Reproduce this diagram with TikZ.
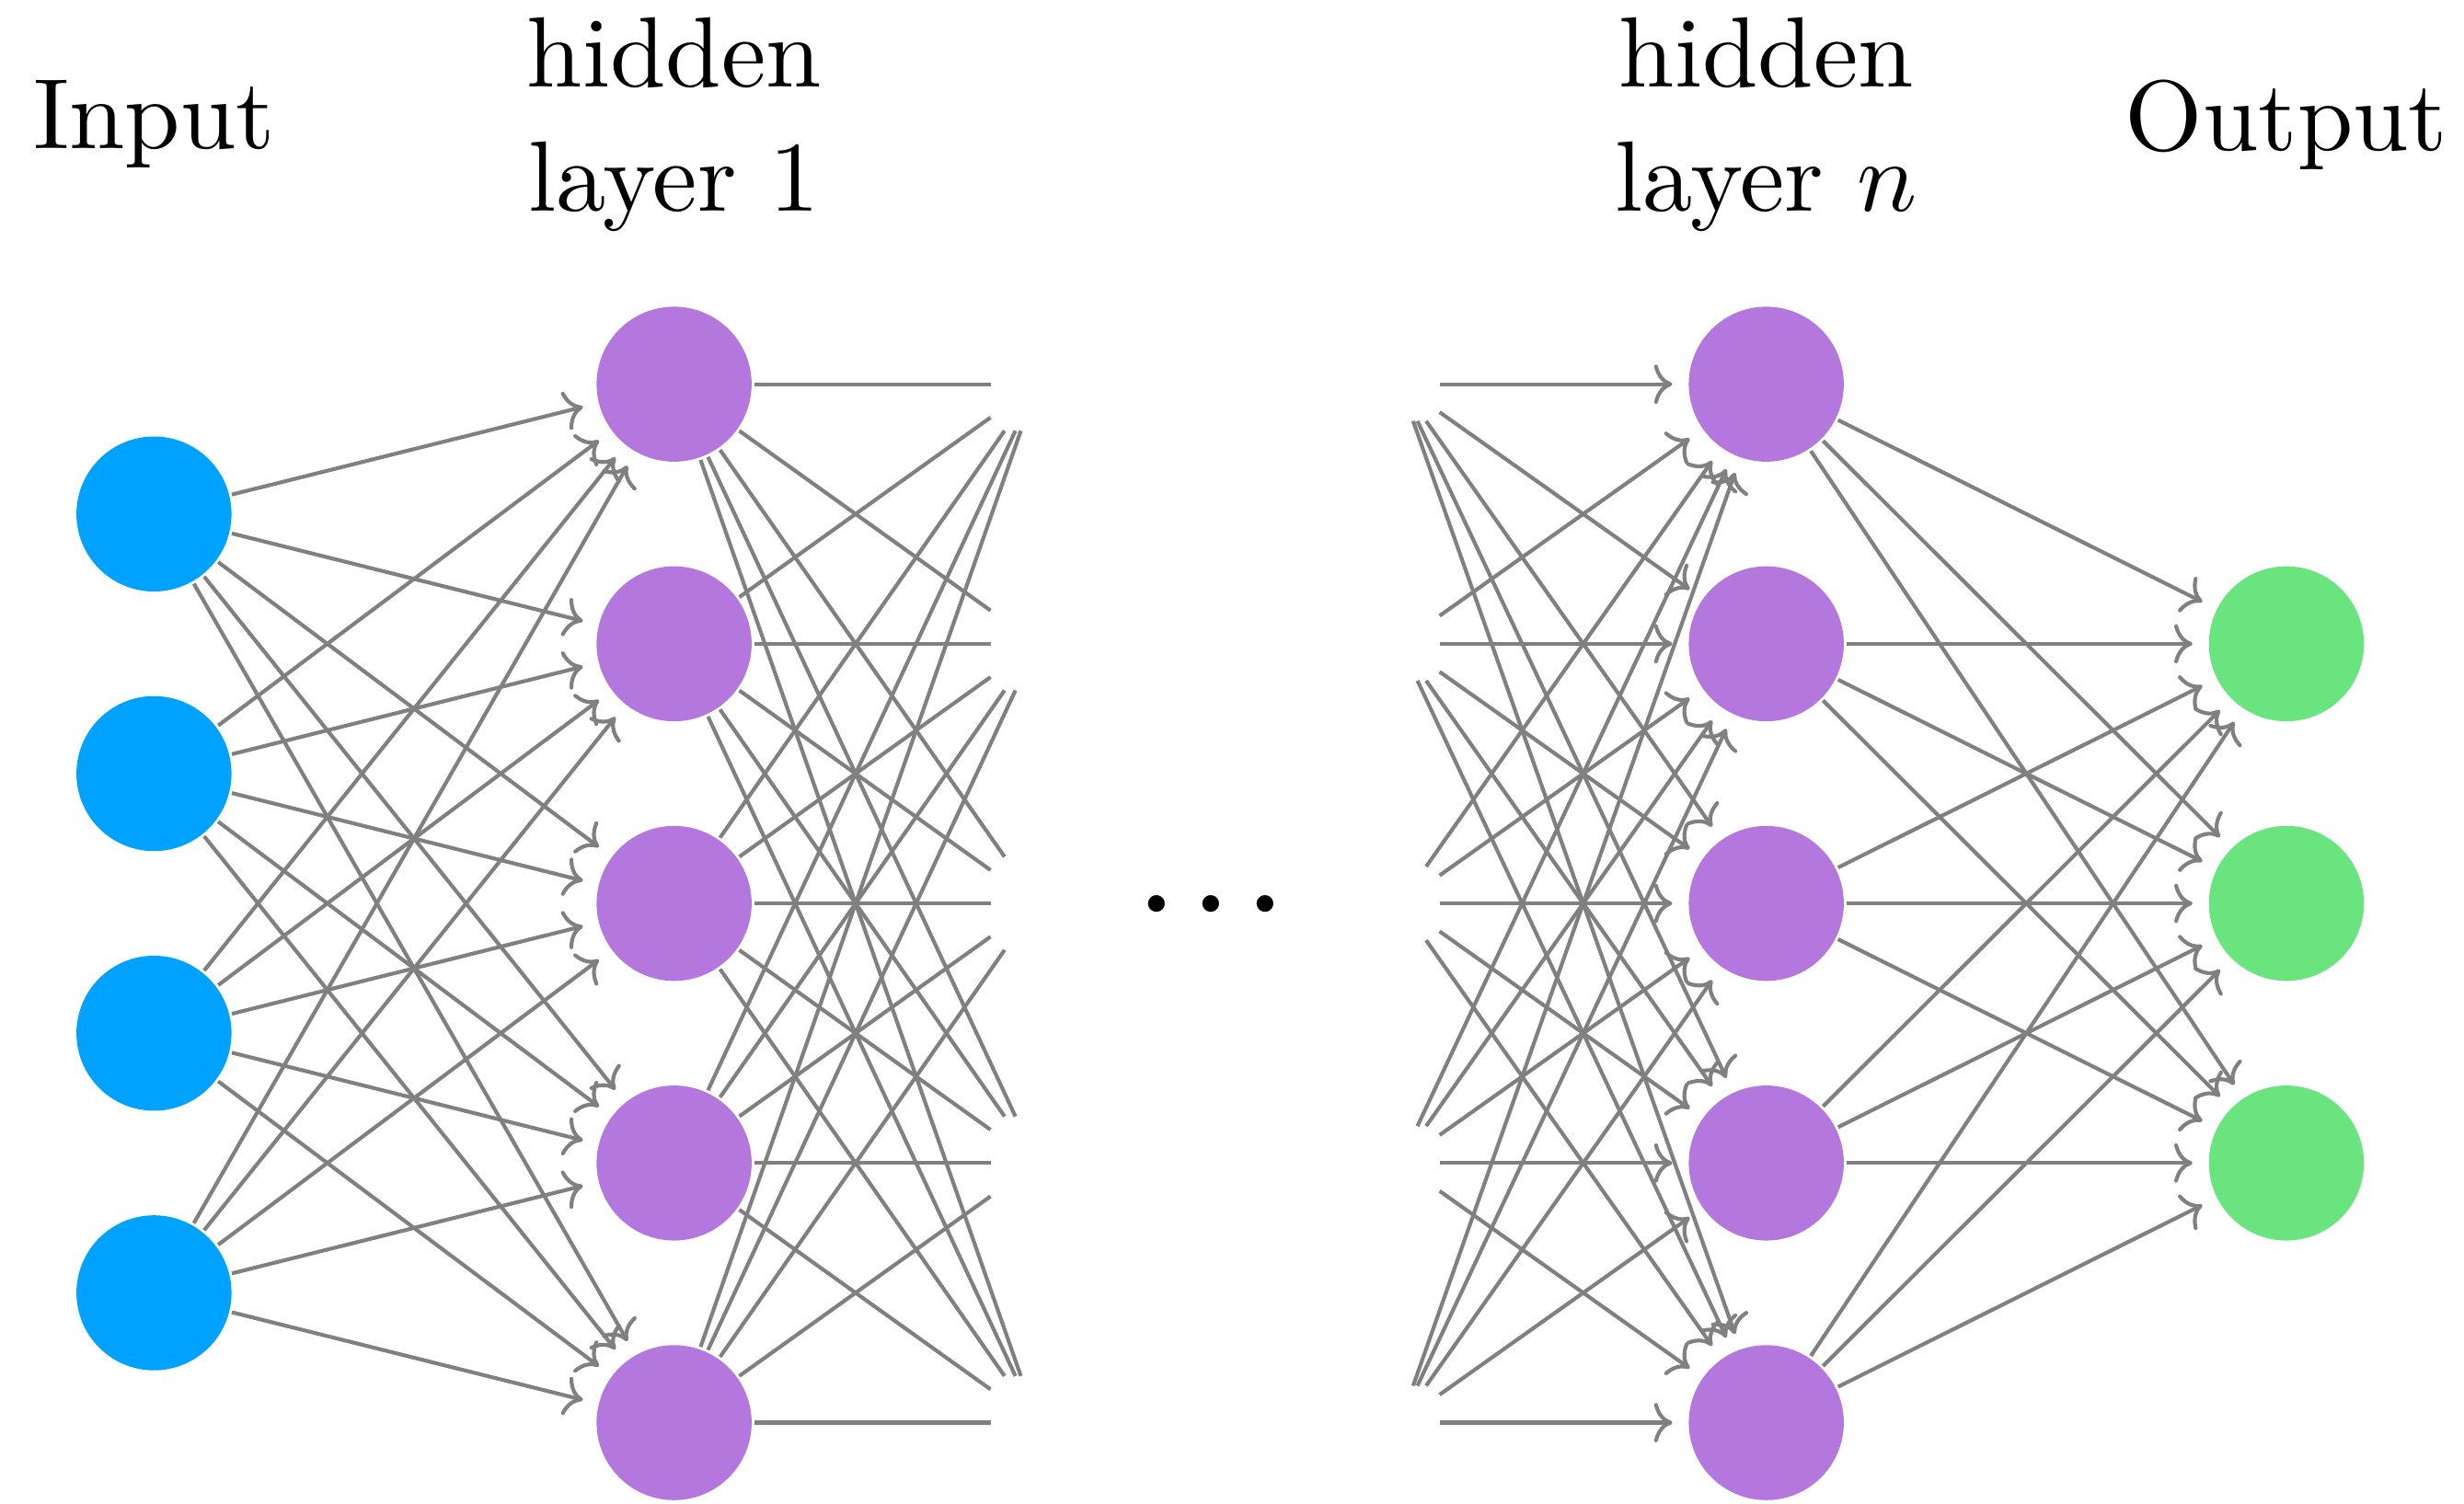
\documentclass[tikz,border=0pt]{standalone}
\usetikzlibrary{arrows.meta}
\definecolor{inblue}{HTML}{00A2FF}
\definecolor{hidpurple}{HTML}{B477DE}
\definecolor{outgreen}{HTML}{6AE47F}
\begin{document}
\begin{tikzpicture}[
  neuron/.style={circle, inner sep=0pt, minimum size=0.597cm, outer sep=0.3pt},
  inneuron/.style={neuron, fill=inblue},
  hidneuron/.style={neuron, fill=hidpurple},
  outneuron/.style={neuron, fill=outgreen},
  stubL/.style={rectangle, inner sep=0pt, minimum width=0.345cm, minimum height=0.345cm},
  stubR/.style={rectangle, inner sep=0pt, minimum width=0.29cm, minimum height=0.27cm},
  link/.style={gray, line width=0.42pt},
  arrowlink/.style={link, -{Computer Modern Rightarrow[length=2pt,width=4.3pt]}, shorten >=1.5pt},
  layerlabel/.style={align=center, font=\fontsize{10.95pt}{13.6pt}\selectfont}
]
\useasboundingbox (-0.593,-2.312) rectangle (8.896,3.480);

% layers of neurons
\foreach \i in {1,...,4} \node[inneuron] (I\i) at (0,{2.5-\i}) {};
\foreach \i in {1,...,5} \node[hidneuron] (H\i) at (2.003,{3-\i}) {};
\foreach \i in {1,...,5} \node[hidneuron] (N\i) at (6.209,{3-\i}) {};
\foreach \i in {1,...,3} \node[outneuron] (O\i) at (8.212,{2-\i}) {};

% invisible ends of the cut-off connections around the gap
\foreach \i in {1,...,5} \node[stubL] (L\i) at (3.401,{3-\i}) {};
\foreach \i in {1,...,5} \node[stubR] (R\i) at (4.799,{3-\i}) {};

% connections
\foreach \i in {1,...,4} \foreach \j in {1,...,5} \draw[arrowlink] (I\i) -- (H\j);
\foreach \i in {1,...,5} \foreach \j in {1,...,5} \draw[link] (H\i) -- (L\j);
\foreach \i in {1,...,5} \foreach \j in {1,...,5} \draw[arrowlink] (R\i) -- (N\j);
\foreach \i in {1,...,5} \foreach \j in {1,...,3} \draw[arrowlink] (N\i) -- (O\j);

% ellipsis between the hidden layers
\node[font=\fontsize{19pt}{23pt}\selectfont, inner sep=0pt] (dots) at (4.072,-0.02) {${\cdot}\mkern1.2mu{\cdot}\mkern1.2mu{\cdot}$};

% layer labels
\node[layerlabel] (labin) at (0,3) {Input};
\node[layerlabel] (labh1) at (2.003,3) {hidden\\layer 1};
\node[layerlabel] (labhn) at (6.209,3) {hidden\\layer $n$};
\node[layerlabel] (labout) at (8.212,3) {Output};
\end{tikzpicture}
\end{document}
